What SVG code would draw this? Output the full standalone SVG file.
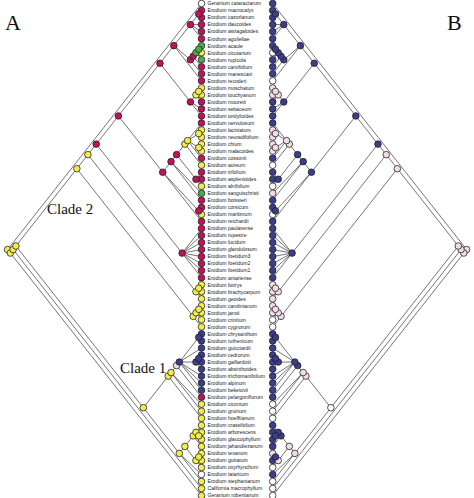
<svg xmlns="http://www.w3.org/2000/svg" width="474" height="498" viewBox="0 0 474 498">
<style>
.e{stroke:#3a3a3a;stroke-width:0.7;fill:none}
circle{stroke:#1c1c1c;stroke-width:0.75}
.m{fill:#c2125c}.y{fill:#f3ec4f}.g{fill:#45b04a}.b{fill:#3c3e8c}.p{fill:#f2dcea}.w{fill:#ffffff}
.t{font-family:"Liberation Sans",Arial,sans-serif;font-size:5.1px;fill:#1a1a1a}
.big{font-family:"Liberation Serif","Times New Roman",serif;fill:#111}
</style>
<defs>
<path id="edges" class="e" d="M7.6,249.55L201.5,3.5M7.6,249.55L10.37,253.05M10.37,253.05L13.14,249.55M10.37,253.05L201.5,495.6M13.14,249.55L15.91,246M13.14,249.55L201.5,488.6M15.91,246L76.85,168.7M15.91,246L143.33,407.7M76.85,168.7L87.93,154.65M76.85,168.7L193.19,316.35M87.93,154.65L96.24,144.1M87.93,154.65L195.96,291.75M96.24,144.1L118.4,115.95M96.24,144.1L182.11,253.1M118.4,115.95L159.95,63.25M118.4,115.95L162.72,172.2M159.95,63.25L173.8,45.65M159.95,63.25L190.42,101.95M173.8,45.65L190.42,24.6M173.8,45.65L190.42,59.75M173.8,45.65L201.5,80.8M190.42,24.6L198.73,14.05M190.42,24.6L201.5,24.6M190.42,24.6L201.5,31.6M190.42,24.6L201.5,38.7M198.73,14.05L201.5,10.5M198.73,14.05L201.5,17.6M190.42,59.75L193.19,56.25M190.42,59.75L201.5,73.8M193.19,56.25L195.96,52.7M193.19,56.25L201.5,66.8M195.96,52.7L198.73,49.2M195.96,52.7L201.5,59.7M198.73,49.2L201.5,45.7M198.73,49.2L201.5,52.7M190.42,101.95L195.96,94.9M190.42,101.95L201.5,108.9M190.42,101.95L201.5,116M195.96,94.9L198.73,91.4M195.96,94.9L201.5,101.9M198.73,91.4L201.5,87.9M198.73,91.4L201.5,94.9M162.72,172.2L171.03,161.65M162.72,172.2L198.73,210.9M162.72,172.2L201.5,221.4M171.03,161.65L176.57,154.65M171.03,161.65L201.5,193.3M171.03,161.65L201.5,200.3M176.57,154.65L184.88,144.1M176.57,154.65L195.96,179.25M184.88,144.1L187.65,140.6M184.88,144.1L201.5,165.2M187.65,140.6L201.5,123M187.65,140.6L198.73,133.55M187.65,140.6L198.73,147.6M187.65,140.6L201.5,158.2M198.73,133.55L201.5,130M198.73,133.55L201.5,137.1M198.73,147.6L201.5,144.1M198.73,147.6L201.5,151.1M195.96,179.25L201.5,172.2M195.96,179.25L201.5,179.2M195.96,179.25L201.5,186.3M198.73,210.9L201.5,207.4M198.73,210.9L201.5,214.4M182.11,253.1L201.5,228.5M182.11,253.1L201.5,235.5M182.11,253.1L201.5,242.5M182.11,253.1L201.5,249.5M182.11,253.1L201.5,256.6M182.11,253.1L201.5,263.6M182.11,253.1L201.5,270.6M182.11,253.1L201.5,277.7M195.96,291.75L198.73,288.2M195.96,291.75L201.5,298.8M198.73,288.2L201.5,284.7M198.73,288.2L201.5,291.7M193.19,316.35L195.96,312.8M193.19,316.35L201.5,326.9M195.96,312.8L198.73,309.3M195.96,312.8L201.5,319.8M198.73,309.3L201.5,305.8M198.73,309.3L201.5,312.8M143.33,407.7L168.26,376.1M143.33,407.7L179.34,453.4M168.26,376.1L171.03,372.55M168.26,376.1L201.5,418.3M171.03,372.55L176.57,365.55M171.03,372.55L201.5,404.2M171.03,372.55L201.5,411.2M176.57,365.55L179.34,362.05M176.57,365.55L201.5,397.2M179.34,362.05L198.73,337.4M179.34,362.05L201.5,348M179.34,362.05L195.96,362.05M179.34,362.05L201.5,376.1M179.34,362.05L201.5,383.1M179.34,362.05L201.5,390.2M198.73,337.4L201.5,333.9M198.73,337.4L201.5,340.9M195.96,362.05L198.73,358.5M195.96,362.05L201.5,369.1M198.73,358.5L201.5,355M198.73,358.5L201.5,362M179.34,453.4L184.88,446.4M179.34,453.4L201.5,474.5M179.34,453.4L201.5,481.5M184.88,446.4L193.19,435.85M184.88,446.4L195.96,460.5M193.19,435.85L195.96,432.3M193.19,435.85L201.5,446.4M195.96,432.3L201.5,425.3M195.96,432.3L198.73,435.85M198.73,435.85L201.5,432.3M198.73,435.85L201.5,439.4M195.96,460.5L198.73,456.95M195.96,460.5L201.5,467.5M198.73,456.95L201.5,453.4M198.73,456.95L201.5,460.5"/>
</defs>
<rect width="474" height="498" fill="#fff"/>
<g id="connectors">
<use href="#edges"/>
<use href="#edges" transform="matrix(-1,0,0,1,474.2,0)"/>
</g>
<g id="tips">
<g id="t01"><circle class="w" cx="201.5" cy="3.5" r="3.3"/><text class="t" x="207.5" y="5.3">Geranium cataractarum</text><circle class="b" cx="272.7" cy="3.5" r="3.3"/></g>
<g id="t02"><circle class="m" cx="201.5" cy="10.5" r="3.3"/><text class="t" x="207.5" y="12.3">Erodium macrocalyx</text><circle class="b" cx="272.7" cy="10.5" r="3.3"/></g>
<g id="t03"><circle class="m" cx="201.5" cy="17.6" r="3.3"/><text class="t" x="207.5" y="19.4">Erodium cazorlanum</text><circle class="b" cx="272.7" cy="17.6" r="3.3"/></g>
<g id="t04"><circle class="m" cx="201.5" cy="24.6" r="3.3"/><text class="t" x="207.5" y="26.4">Erodium daucoides</text><circle class="b" cx="272.7" cy="24.6" r="3.3"/></g>
<g id="t05"><circle class="m" cx="201.5" cy="31.6" r="3.3"/><text class="t" x="207.5" y="33.4">Erodium astragaloides</text><circle class="b" cx="272.7" cy="31.6" r="3.3"/></g>
<g id="t06"><circle class="m" cx="201.5" cy="38.7" r="3.3"/><text class="t" x="207.5" y="40.5">Erodium aguilellae</text><circle class="b" cx="272.7" cy="38.7" r="3.3"/></g>
<g id="t07"><circle class="g" cx="201.5" cy="45.7" r="3.3"/><text class="t" x="207.5" y="47.5">Erodium acaule</text><circle class="b" cx="272.7" cy="45.7" r="3.3"/></g>
<g id="t08"><circle class="y" cx="201.5" cy="52.7" r="3.3"/><text class="t" x="207.5" y="54.5">Erodium cicutarium</text><circle class="w" cx="272.7" cy="52.7" r="3.3"/></g>
<g id="t09"><circle class="g" cx="201.5" cy="59.7" r="3.3"/><text class="t" x="207.5" y="61.5">Erodium rupicola</text><circle class="b" cx="272.7" cy="59.7" r="3.3"/></g>
<g id="t10"><circle class="m" cx="201.5" cy="66.8" r="3.3"/><text class="t" x="207.5" y="68.6">Erodium carvifolium</text><circle class="b" cx="272.7" cy="66.8" r="3.3"/></g>
<g id="t11"><circle class="m" cx="201.5" cy="73.8" r="3.3"/><text class="t" x="207.5" y="75.6">Erodium manescavi</text><circle class="b" cx="272.7" cy="73.8" r="3.3"/></g>
<g id="t12"><circle class="m" cx="201.5" cy="80.8" r="3.3"/><text class="t" x="207.5" y="82.6">Erodium recoderi</text><circle class="w" cx="272.7" cy="80.8" r="3.3"/></g>
<g id="t13"><circle class="y" cx="201.5" cy="87.9" r="3.3"/><text class="t" x="207.5" y="89.7">Erodium moschatum</text><circle class="p" cx="272.7" cy="87.9" r="3.3"/></g>
<g id="t14"><circle class="y" cx="201.5" cy="94.9" r="3.3"/><text class="t" x="207.5" y="96.7">Erodium touchyanum</text><circle class="p" cx="272.7" cy="94.9" r="3.3"/></g>
<g id="t15"><circle class="m" cx="201.5" cy="101.9" r="3.3"/><text class="t" x="207.5" y="103.7">Erodium mouretii</text><circle class="b" cx="272.7" cy="101.9" r="3.3"/></g>
<g id="t16"><circle class="m" cx="201.5" cy="108.9" r="3.3"/><text class="t" x="207.5" y="110.7">Erodium sebaceum</text><circle class="b" cx="272.7" cy="108.9" r="3.3"/></g>
<g id="t17"><circle class="m" cx="201.5" cy="116" r="3.3"/><text class="t" x="207.5" y="117.8">Erodium tordylioides</text><circle class="b" cx="272.7" cy="116" r="3.3"/></g>
<g id="t18"><circle class="m" cx="201.5" cy="123" r="3.3"/><text class="t" x="207.5" y="124.8">Erodium nervulosum</text><circle class="b" cx="272.7" cy="123" r="3.3"/></g>
<g id="t19"><circle class="y" cx="201.5" cy="130" r="3.3"/><text class="t" x="207.5" y="131.8">Erodium laciniatum</text><circle class="p" cx="272.7" cy="130" r="3.3"/></g>
<g id="t20"><circle class="y" cx="201.5" cy="137.1" r="3.3"/><text class="t" x="207.5" y="138.9">Erodium neuradifolium</text><circle class="p" cx="272.7" cy="137.1" r="3.3"/></g>
<g id="t21"><circle class="y" cx="201.5" cy="144.1" r="3.3"/><text class="t" x="207.5" y="145.9">Erodium chium</text><circle class="p" cx="272.7" cy="144.1" r="3.3"/></g>
<g id="t22"><circle class="y" cx="201.5" cy="151.1" r="3.3"/><text class="t" x="207.5" y="152.9">Erodium malacoides</text><circle class="p" cx="272.7" cy="151.1" r="3.3"/></g>
<g id="t23"><circle class="m" cx="201.5" cy="158.2" r="3.3"/><text class="t" x="207.5" y="160">Erodium cossonii</text><circle class="b" cx="272.7" cy="158.2" r="3.3"/></g>
<g id="t24"><circle class="y" cx="201.5" cy="165.2" r="3.3"/><text class="t" x="207.5" y="167">Erodium aureum</text><circle class="w" cx="272.7" cy="165.2" r="3.3"/></g>
<g id="t25"><circle class="m" cx="201.5" cy="172.2" r="3.3"/><text class="t" x="207.5" y="174">Erodium trifolium</text><circle class="b" cx="272.7" cy="172.2" r="3.3"/></g>
<g id="t26"><circle class="m" cx="201.5" cy="179.2" r="3.3"/><text class="t" x="207.5" y="181">Erodium asplenioides</text><circle class="b" cx="272.7" cy="179.2" r="3.3"/></g>
<g id="t27"><circle class="y" cx="201.5" cy="186.3" r="3.3"/><text class="t" x="207.5" y="188.1">Erodium alnifolium</text><circle class="w" cx="272.7" cy="186.3" r="3.3"/></g>
<g id="t28"><circle class="g" cx="201.5" cy="193.3" r="3.3"/><text class="t" x="207.5" y="195.1">Erodium sanguischristi</text><circle class="p" cx="272.7" cy="193.3" r="3.3"/></g>
<g id="t29"><circle class="m" cx="201.5" cy="200.3" r="3.3"/><text class="t" x="207.5" y="202.1">Erodium boissieri</text><circle class="b" cx="272.7" cy="200.3" r="3.3"/></g>
<g id="t30"><circle class="m" cx="201.5" cy="207.4" r="3.3"/><text class="t" x="207.5" y="209.2">Erodium corsicum</text><circle class="b" cx="272.7" cy="207.4" r="3.3"/></g>
<g id="t31"><circle class="y" cx="201.5" cy="214.4" r="3.3"/><text class="t" x="207.5" y="216.2">Erodium maritimum</text><circle class="w" cx="272.7" cy="214.4" r="3.3"/></g>
<g id="t32"><circle class="m" cx="201.5" cy="221.4" r="3.3"/><text class="t" x="207.5" y="223.2">Erodium reichardii</text><circle class="b" cx="272.7" cy="221.4" r="3.3"/></g>
<g id="t33"><circle class="m" cx="201.5" cy="228.5" r="3.3"/><text class="t" x="207.5" y="230.3">Erodium paularense</text><circle class="b" cx="272.7" cy="228.5" r="3.3"/></g>
<g id="t34"><circle class="m" cx="201.5" cy="235.5" r="3.3"/><text class="t" x="207.5" y="237.3">Erodium rupestre</text><circle class="b" cx="272.7" cy="235.5" r="3.3"/></g>
<g id="t35"><circle class="m" cx="201.5" cy="242.5" r="3.3"/><text class="t" x="207.5" y="244.3">Erodium lucidum</text><circle class="b" cx="272.7" cy="242.5" r="3.3"/></g>
<g id="t36"><circle class="m" cx="201.5" cy="249.5" r="3.3"/><text class="t" x="207.5" y="251.3">Erodium glandulosum</text><circle class="b" cx="272.7" cy="249.5" r="3.3"/></g>
<g id="t37"><circle class="m" cx="201.5" cy="256.6" r="3.3"/><text class="t" x="207.5" y="258.4">Erodium foetidum3</text><circle class="b" cx="272.7" cy="256.6" r="3.3"/></g>
<g id="t38"><circle class="m" cx="201.5" cy="263.6" r="3.3"/><text class="t" x="207.5" y="265.4">Erodium foetidum2</text><circle class="b" cx="272.7" cy="263.6" r="3.3"/></g>
<g id="t39"><circle class="m" cx="201.5" cy="270.6" r="3.3"/><text class="t" x="207.5" y="272.4">Erodium foetidum1</text><circle class="b" cx="272.7" cy="270.6" r="3.3"/></g>
<g id="t40"><circle class="m" cx="201.5" cy="277.7" r="3.3"/><text class="t" x="207.5" y="279.5">Erodium antariense</text><circle class="b" cx="272.7" cy="277.7" r="3.3"/></g>
<g id="t41"><circle class="y" cx="201.5" cy="284.7" r="3.3"/><text class="t" x="207.5" y="286.5">Erodium botrys</text><circle class="p" cx="272.7" cy="284.7" r="3.3"/></g>
<g id="t42"><circle class="y" cx="201.5" cy="291.7" r="3.3"/><text class="t" x="207.5" y="293.5">Erodium brachycarpum</text><circle class="p" cx="272.7" cy="291.7" r="3.3"/></g>
<g id="t43"><circle class="y" cx="201.5" cy="298.8" r="3.3"/><text class="t" x="207.5" y="300.6">Erodium geoides</text><circle class="p" cx="272.7" cy="298.8" r="3.3"/></g>
<g id="t44"><circle class="y" cx="201.5" cy="305.8" r="3.3"/><text class="t" x="207.5" y="307.6">Erodium carolinianum</text><circle class="p" cx="272.7" cy="305.8" r="3.3"/></g>
<g id="t45"><circle class="y" cx="201.5" cy="312.8" r="3.3"/><text class="t" x="207.5" y="314.6">Erodium jansii</text><circle class="p" cx="272.7" cy="312.8" r="3.3"/></g>
<g id="t46"><circle class="y" cx="201.5" cy="319.8" r="3.3"/><text class="t" x="207.5" y="321.6">Erodium crinitum</text><circle class="w" cx="272.7" cy="319.8" r="3.3"/></g>
<g id="t47"><circle class="y" cx="201.5" cy="326.9" r="3.3"/><text class="t" x="207.5" y="328.7">Erodium cygnorum</text><circle class="w" cx="272.7" cy="326.9" r="3.3"/></g>
<g id="t48"><circle class="b" cx="201.5" cy="333.9" r="3.3"/><text class="t" x="207.5" y="335.7">Erodium chrysanthum</text><circle class="b" cx="272.7" cy="333.9" r="3.3"/></g>
<g id="t49"><circle class="b" cx="201.5" cy="340.9" r="3.3"/><text class="t" x="207.5" y="342.7">Erodium ruthenicum</text><circle class="b" cx="272.7" cy="340.9" r="3.3"/></g>
<g id="t50"><circle class="b" cx="201.5" cy="348" r="3.3"/><text class="t" x="207.5" y="349.8">Erodium guicciardii</text><circle class="b" cx="272.7" cy="348" r="3.3"/></g>
<g id="t51"><circle class="b" cx="201.5" cy="355" r="3.3"/><text class="t" x="207.5" y="356.8">Erodium cedrorum</text><circle class="b" cx="272.7" cy="355" r="3.3"/></g>
<g id="t52"><circle class="b" cx="201.5" cy="362" r="3.3"/><text class="t" x="207.5" y="363.8">Erodium gaillardotii</text><circle class="b" cx="272.7" cy="362" r="3.3"/></g>
<g id="t53"><circle class="b" cx="201.5" cy="369.1" r="3.3"/><text class="t" x="207.5" y="370.9">Erodium absinthoides</text><circle class="b" cx="272.7" cy="369.1" r="3.3"/></g>
<g id="t54"><circle class="b" cx="201.5" cy="376.1" r="3.3"/><text class="t" x="207.5" y="377.9">Erodium trichomanifolium</text><circle class="b" cx="272.7" cy="376.1" r="3.3"/></g>
<g id="t55"><circle class="b" cx="201.5" cy="383.1" r="3.3"/><text class="t" x="207.5" y="384.9">Erodium alpinum</text><circle class="b" cx="272.7" cy="383.1" r="3.3"/></g>
<g id="t56"><circle class="b" cx="201.5" cy="390.2" r="3.3"/><text class="t" x="207.5" y="392">Erodium beketovii</text><circle class="b" cx="272.7" cy="390.2" r="3.3"/></g>
<g id="t57"><circle class="m" cx="201.5" cy="397.2" r="3.3"/><text class="t" x="207.5" y="399">Erodium pelargoniflorum</text><circle class="b" cx="272.7" cy="397.2" r="3.3"/></g>
<g id="t58"><circle class="y" cx="201.5" cy="404.2" r="3.3"/><text class="t" x="207.5" y="406">Erodium ciconium</text><circle class="w" cx="272.7" cy="404.2" r="3.3"/></g>
<g id="t59"><circle class="y" cx="201.5" cy="411.2" r="3.3"/><text class="t" x="207.5" y="413">Erodium gruinum</text><circle class="w" cx="272.7" cy="411.2" r="3.3"/></g>
<g id="t60"><circle class="y" cx="201.5" cy="418.3" r="3.3"/><text class="t" x="207.5" y="420.1">Erodium hoefftianum</text><circle class="w" cx="272.7" cy="418.3" r="3.3"/></g>
<g id="t61"><circle class="y" cx="201.5" cy="425.3" r="3.3"/><text class="t" x="207.5" y="427.1">Erodium crassifolium</text><circle class="b" cx="272.7" cy="425.3" r="3.3"/></g>
<g id="t62"><circle class="y" cx="201.5" cy="432.3" r="3.3"/><text class="t" x="207.5" y="434.1">Erodium arborescens</text><circle class="b" cx="272.7" cy="432.3" r="3.3"/></g>
<g id="t63"><circle class="y" cx="201.5" cy="439.4" r="3.3"/><text class="t" x="207.5" y="441.2">Erodium glaucophyllum</text><circle class="b" cx="272.7" cy="439.4" r="3.3"/></g>
<g id="t64"><circle class="y" cx="201.5" cy="446.4" r="3.3"/><text class="t" x="207.5" y="448.2">Erodium jahandiezanum</text><circle class="b" cx="272.7" cy="446.4" r="3.3"/></g>
<g id="t65"><circle class="y" cx="201.5" cy="453.4" r="3.3"/><text class="t" x="207.5" y="455.2">Erodium texanum</text><circle class="p" cx="272.7" cy="453.4" r="3.3"/></g>
<g id="t66"><circle class="y" cx="201.5" cy="460.5" r="3.3"/><text class="t" x="207.5" y="462.3">Erodium guttatum</text><circle class="b" cx="272.7" cy="460.5" r="3.3"/></g>
<g id="t67"><circle class="y" cx="201.5" cy="467.5" r="3.3"/><text class="t" x="207.5" y="469.3">Erodium oxyrhynchum</text><circle class="w" cx="272.7" cy="467.5" r="3.3"/></g>
<g id="t68"><circle class="w" cx="201.5" cy="474.5" r="3.3"/><text class="t" x="207.5" y="476.3">Erodium tataricum</text><circle class="b" cx="272.7" cy="474.5" r="3.3"/></g>
<g id="t69"><circle class="y" cx="201.5" cy="481.5" r="3.3"/><text class="t" x="207.5" y="483.3">Erodium stephanianum</text><circle class="w" cx="272.7" cy="481.5" r="3.3"/></g>
<g id="t70"><circle class="y" cx="201.5" cy="488.6" r="3.3"/><text class="t" x="207.5" y="490.4">California macrophyllum</text><circle class="w" cx="272.7" cy="488.6" r="3.3"/></g>
<g id="t71"><circle class="y" cx="201.5" cy="495.6" r="3.3"/><text class="t" x="207.5" y="497.4">Geranium robertianum</text><circle class="w" cx="272.7" cy="495.6" r="3.3"/></g>
</g>
<g id="nodes-A">
<g id="a-root"><circle class="y" cx="7.6" cy="249.55" r="3.3"/></g>
<g id="a2_71"><circle class="y" cx="10.37" cy="253.05" r="3.3"/></g>
<g id="a2_70"><circle class="y" cx="13.14" cy="249.55" r="3.3"/></g>
<g id="a2_69"><circle class="y" cx="15.91" cy="246" r="3.3"/></g>
<g id="a2_47"><circle class="y" cx="76.85" cy="168.7" r="3.3"/></g>
<g id="a2_43"><circle class="y" cx="87.93" cy="154.65" r="3.3"/></g>
<g id="a2_40"><circle class="m" cx="96.24" cy="144.1" r="3.3"/></g>
<g id="a2_32"><circle class="m" cx="118.4" cy="115.95" r="3.3"/></g>
<g id="a2_17"><circle class="m" cx="159.95" cy="63.25" r="3.3"/></g>
<g id="a2_12"><circle class="m" cx="173.8" cy="45.65" r="3.3"/></g>
<g id="a2_6"><circle class="m" cx="190.42" cy="24.6" r="3.3"/></g>
<g id="a2_3"><circle class="m" cx="198.73" cy="14.05" r="3.3"/></g>
<g id="a7_11"><circle class="m" cx="190.42" cy="59.75" r="3.3"/></g>
<g id="a7_10"><circle class="m" cx="193.19" cy="56.25" r="3.3"/></g>
<g id="a7_9"><circle class="g" cx="195.96" cy="52.7" r="3.3"/></g>
<g id="a7_8"><circle class="g" cx="198.73" cy="49.2" r="3.3"/></g>
<g id="a13_17"><circle class="m" cx="190.42" cy="101.95" r="3.3"/></g>
<g id="a13_15"><circle class="y" cx="195.96" cy="94.9" r="3.3"/></g>
<g id="a13_14"><circle class="y" cx="198.73" cy="91.4" r="3.3"/></g>
<g id="a18_32"><circle class="m" cx="162.72" cy="172.2" r="3.3"/></g>
<g id="a18_29"><circle class="m" cx="171.03" cy="161.65" r="3.3"/></g>
<g id="a18_27"><circle class="m" cx="176.57" cy="154.65" r="3.3"/></g>
<g id="a18_24"><circle class="y" cx="184.88" cy="144.1" r="3.3"/></g>
<g id="a18_23"><circle class="y" cx="187.65" cy="140.6" r="3.3"/></g>
<g id="a19_20"><circle class="y" cx="198.73" cy="133.55" r="3.3"/></g>
<g id="a21_22"><circle class="y" cx="198.73" cy="147.6" r="3.3"/></g>
<g id="a25_27"><circle class="m" cx="195.96" cy="179.25" r="3.3"/></g>
<g id="a30_31"><circle class="m" cx="198.73" cy="210.9" r="3.3"/></g>
<g id="a33_40"><circle class="m" cx="182.11" cy="253.1" r="3.3"/></g>
<g id="a41_43"><circle class="y" cx="195.96" cy="291.75" r="3.3"/></g>
<g id="a41_42"><circle class="y" cx="198.73" cy="288.2" r="3.3"/></g>
<g id="a44_47"><circle class="y" cx="193.19" cy="316.35" r="3.3"/></g>
<g id="a44_46"><circle class="y" cx="195.96" cy="312.8" r="3.3"/></g>
<g id="a44_45"><circle class="y" cx="198.73" cy="309.3" r="3.3"/></g>
<g id="a48_69"><circle class="y" cx="143.33" cy="407.7" r="3.3"/></g>
<g id="a48_60"><circle class="y" cx="168.26" cy="376.1" r="3.3"/></g>
<g id="a48_59"><circle class="y" cx="171.03" cy="372.55" r="3.3"/></g>
<g id="a48_57"><circle class="p" cx="176.57" cy="365.55" r="3.3"/></g>
<g id="a48_56"><circle class="b" cx="179.34" cy="362.05" r="3.3"/></g>
<g id="a48_49"><circle class="b" cx="198.73" cy="337.4" r="3.3"/></g>
<g id="a51_53"><circle class="b" cx="195.96" cy="362.05" r="3.3"/></g>
<g id="a51_52"><circle class="b" cx="198.73" cy="358.5" r="3.3"/></g>
<g id="a61_69"><circle class="y" cx="179.34" cy="453.4" r="3.3"/></g>
<g id="a61_67"><circle class="y" cx="184.88" cy="446.4" r="3.3"/></g>
<g id="a61_64"><circle class="y" cx="193.19" cy="435.85" r="3.3"/></g>
<g id="a61_63"><circle class="y" cx="195.96" cy="432.3" r="3.3"/></g>
<g id="a62_63"><circle class="y" cx="198.73" cy="435.85" r="3.3"/></g>
<g id="a65_67"><circle class="y" cx="195.96" cy="460.5" r="3.3"/></g>
<g id="a65_66"><circle class="y" cx="198.73" cy="456.95" r="3.3"/></g>
</g>
<g id="nodes-B" transform="matrix(-1,0,0,1,474.2,0)">
<g id="b-root"><circle class="p" cx="7.6" cy="249.55" r="3.3"/></g>
<g id="b2_71"><circle class="p" cx="10.37" cy="253.05" r="3.3"/></g>
<g id="b2_70"><circle class="p" cx="13.14" cy="249.55" r="3.3"/></g>
<g id="b2_69"><circle class="p" cx="15.91" cy="246" r="3.3"/></g>
<g id="b2_47"><circle class="p" cx="76.85" cy="168.7" r="3.3"/></g>
<g id="b2_43"><circle class="p" cx="87.93" cy="154.65" r="3.3"/></g>
<g id="b2_40"><circle class="b" cx="96.24" cy="144.1" r="3.3"/></g>
<g id="b2_32"><circle class="b" cx="118.4" cy="115.95" r="3.3"/></g>
<g id="b2_17"><circle class="b" cx="159.95" cy="63.25" r="3.3"/></g>
<g id="b2_12"><circle class="b" cx="173.8" cy="45.65" r="3.3"/></g>
<g id="b2_6"><circle class="b" cx="190.42" cy="24.6" r="3.3"/></g>
<g id="b2_3"><circle class="b" cx="198.73" cy="14.05" r="3.3"/></g>
<g id="b7_11"><circle class="b" cx="190.42" cy="59.75" r="3.3"/></g>
<g id="b7_10"><circle class="b" cx="193.19" cy="56.25" r="3.3"/></g>
<g id="b7_9"><circle class="b" cx="195.96" cy="52.7" r="3.3"/></g>
<g id="b7_8"><circle class="b" cx="198.73" cy="49.2" r="3.3"/></g>
<g id="b13_17"><circle class="b" cx="190.42" cy="101.95" r="3.3"/></g>
<g id="b13_15"><circle class="p" cx="195.96" cy="94.9" r="3.3"/></g>
<g id="b13_14"><circle class="p" cx="198.73" cy="91.4" r="3.3"/></g>
<g id="b18_32"><circle class="b" cx="162.72" cy="172.2" r="3.3"/></g>
<g id="b18_29"><circle class="b" cx="171.03" cy="161.65" r="3.3"/></g>
<g id="b18_27"><circle class="b" cx="176.57" cy="154.65" r="3.3"/></g>
<g id="b18_24"><circle class="p" cx="184.88" cy="144.1" r="3.3"/></g>
<g id="b18_23"><circle class="p" cx="187.65" cy="140.6" r="3.3"/></g>
<g id="b19_20"><circle class="p" cx="198.73" cy="133.55" r="3.3"/></g>
<g id="b21_22"><circle class="p" cx="198.73" cy="147.6" r="3.3"/></g>
<g id="b25_27"><circle class="b" cx="195.96" cy="179.25" r="3.3"/></g>
<g id="b30_31"><circle class="b" cx="198.73" cy="210.9" r="3.3"/></g>
<g id="b33_40"><circle class="b" cx="182.11" cy="253.1" r="3.3"/></g>
<g id="b41_43"><circle class="p" cx="195.96" cy="291.75" r="3.3"/></g>
<g id="b41_42"><circle class="p" cx="198.73" cy="288.2" r="3.3"/></g>
<g id="b44_47"><circle class="p" cx="193.19" cy="316.35" r="3.3"/></g>
<g id="b44_46"><circle class="p" cx="195.96" cy="312.8" r="3.3"/></g>
<g id="b44_45"><circle class="p" cx="198.73" cy="309.3" r="3.3"/></g>
<g id="b48_69"><circle class="w" cx="143.33" cy="407.7" r="3.3"/></g>
<g id="b48_60"><circle class="p" cx="168.26" cy="376.1" r="3.3"/></g>
<g id="b48_59"><circle class="p" cx="171.03" cy="372.55" r="3.3"/></g>
<g id="b48_57"><circle class="b" cx="176.57" cy="365.55" r="3.3"/></g>
<g id="b48_56"><circle class="b" cx="179.34" cy="362.05" r="3.3"/></g>
<g id="b48_49"><circle class="b" cx="198.73" cy="337.4" r="3.3"/></g>
<g id="b51_53"><circle class="b" cx="195.96" cy="362.05" r="3.3"/></g>
<g id="b51_52"><circle class="b" cx="198.73" cy="358.5" r="3.3"/></g>
<g id="b61_69"><circle class="p" cx="179.34" cy="453.4" r="3.3"/></g>
<g id="b61_67"><circle class="p" cx="184.88" cy="446.4" r="3.3"/></g>
<g id="b61_64"><circle class="b" cx="193.19" cy="435.85" r="3.3"/></g>
<g id="b61_63"><circle class="b" cx="195.96" cy="432.3" r="3.3"/></g>
<g id="b62_63"><circle class="b" cx="198.73" cy="435.85" r="3.3"/></g>
<g id="b65_67"><circle class="p" cx="195.96" cy="460.5" r="3.3"/></g>
<g id="b65_66"><circle class="b" cx="198.73" cy="456.95" r="3.3"/></g>
</g>
<g id="labels">
<text class="big" x="5" y="30" font-size="22">A</text>
<text class="big" x="447" y="30" font-size="22">B</text>
<text class="big" x="47" y="214" font-size="15">Clade 2</text>
<text class="big" x="120" y="373" font-size="15">Clade 1</text>
</g>
</svg>
